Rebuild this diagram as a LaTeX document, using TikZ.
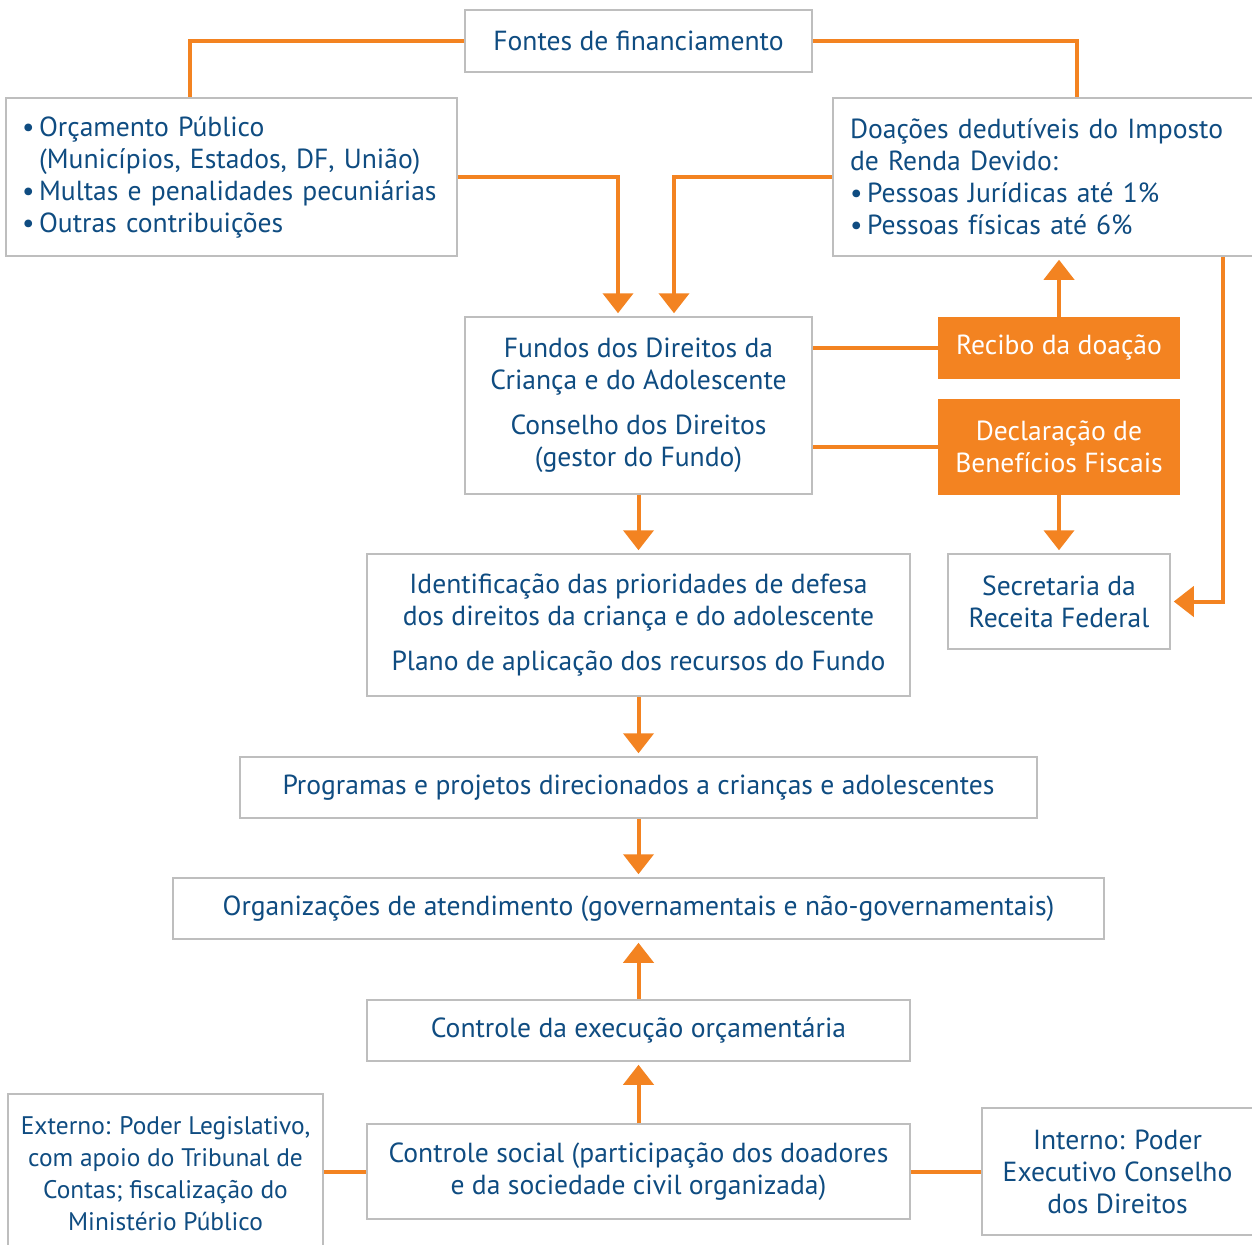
\documentclass[tikz,border=0pt]{standalone}
\usepackage{fontspec}
\setmainfont{PT Sans}
\usepackage{tikz}
\usetikzlibrary{arrows.meta}
\usetikzlibrary{calc}
\definecolor{laranja}{RGB}{243,131,33}
\definecolor{azul}{RGB}{15,76,129}
\definecolor{cinza}{RGB}{190,190,190}

\tikzset{
	caixa/.style 2 args={draw=cinza,line width=0.75pt,fill=white,text=azul,align=center,
		minimum width=#1*0.5pt,minimum height=#2*0.5pt,inner sep=0pt,
		font=\fontsize{13.8}{16}\selectfont},
	destaque/.style 2 args={fill=laranja,text=white,align=center,
		minimum width=#1*0.5pt,minimum height=#2*0.5pt,inner sep=0pt,
		font=\fontsize{13.8}{16}\selectfont},
	liga/.style={laranja,line width=2pt},
	seta/.style={liga,-{Triangle[width=15pt,length=10pt]},shorten >=1.5pt}
}

\begin{document}
\begin{tikzpicture}[x=0.5pt,y=-0.5pt]
	\clip (0,0) rectangle (1252,1244);
	\fill[white] (0,0) rectangle (1252,1244);
	
	% topo
	\node[caixa={347}{62}] (fontes) at (638.5,41) {Fontes de financiamento};
	\node[caixa={451}{158},align=left,text width=419*0.5pt] (orcamento) at (231.5,177)
		{\textbullet\,Orçamento Público\\
		 \phantom{\textbullet\,}(Municípios, Estados, DF, União)\\
		 \textbullet\,Multas e penalidades pecuniárias\\
		 \textbullet\,Outras contribuições};
	\node[caixa={429}{158},align=left,text width=395*0.5pt] (doacoes) at (1047.5,177)
		{Doações dedutíveis do Imposto\\
		 de Renda Devido:\\
		 \textbullet\,Pessoas Jurídicas até 1\%\\
		 \textbullet\,Pessoas físicas até 6\%};
	
	% meio
	\node[caixa={347}{177}] (fundos) at (638.5,405.5)
		{Fundos dos Direitos da\\Criança e do Adolescente\\[6.5pt]
		 Conselho dos Direitos\\(gestor do Fundo)};
	\node[destaque={242}{62}] (recibo) at (1059,348) {Recibo da doação};
	\node[destaque={242}{96}] (declaracao) at (1059,447) {Declaração de\\Benefícios Fiscais};
	\node[caixa={543}{142}] (prioridades) at (638.5,625)
		{Identificação das prioridades de defesa\\dos direitos da criança e do adolescente\\[6.5pt]
		 Plano de aplicação dos recursos do Fundo};
	\node[caixa={222}{95}] (secretaria) at (1059,601.5) {Secretaria da\\Receita Federal};
	\node[caixa={797}{61}] (programas) at (638.5,787.5)
		{Programas e projetos direcionados a crianças e adolescentes};
	\node[caixa={931}{61}] (organizacoes) at (638.5,908.5)
		{Organizações de atendimento (governamentais e não-governamentais)};
	
	% controle
	\node[caixa={543}{61}] (execucao) at (638.5,1030.5) {Controle da execução orçamentária};
	\node[caixa={543}{95}] (social) at (638.5,1171.5)
		{Controle social (participação dos doadores\\e da sociedade civil organizada)};
	\node[caixa={315}{160},font=\fontsize{12.7}{16}\selectfont] (externo) at (165.5,1174)
		{Externo: Poder Legislativo,\\com apoio do Tribunal de\\Contas; fiscalização do\\Ministério Público};
	\node[caixa={271}{127}] (interno) at (1117.5,1171.5)
		{Interno: Poder\\Executivo Conselho\\dos Direitos};
	
	% ligacoes
	\draw[liga] (fontes.west) -| ([xshift=-20.75pt]orcamento.north);
	\draw[liga] (fontes.east) -| ([xshift=14.75pt]doacoes.north);
	\draw[seta] (orcamento.east) -| ([xshift=-10.25pt]fundos.north);
	\draw[seta] (doacoes.west) -| ([xshift=17.75pt]fundos.north);
	\draw[seta] (recibo.north) -- (recibo.north |- doacoes.south);
	\draw[liga] (recibo.west -| fundos.east) -- (recibo.west);
	\draw[liga] (declaracao.west -| fundos.east) -- (declaracao.west);
	\draw[seta] (declaracao.south) -- (secretaria.north);
	\draw[seta] ([xshift=87.75pt]doacoes.south) |- (secretaria.east);
	\draw[seta] (fundos.south) -- (prioridades.north);
	\draw[seta] (prioridades.south) -- (programas.north);
	\draw[seta] (programas.south) -- (organizacoes.north);
	\draw[seta] (execucao.north) -- (organizacoes.south);
	\draw[seta] (social.north) -- (execucao.south);
	\draw[liga] (social.west -| externo.east) -- (social.west);
	\draw[liga] (social.east) -- (interno.west);
	
\end{tikzpicture}
\end{document}
